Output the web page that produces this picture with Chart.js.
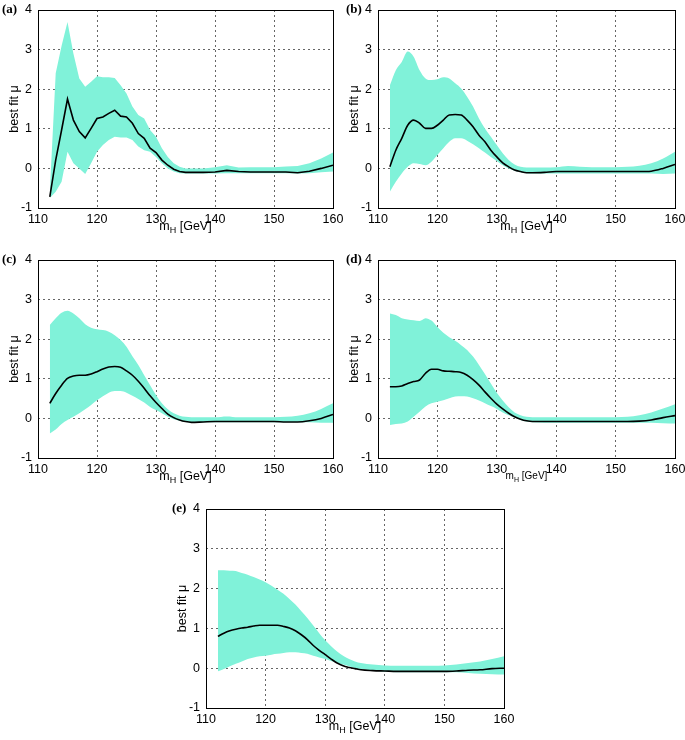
<!DOCTYPE html>
<html>
<head>
<meta charset="utf-8">
<script src="https://cdn.jsdelivr.net/npm/chart.js@4.4.1/dist/chart.umd.min.js"></script>
<style>
  html, body { margin: 0; padding: 0; background: #fff; }
  body { width: 685px; height: 740px; position: relative; overflow: hidden; }
  .panel { position: absolute; }
  .panel canvas { position: absolute; left: 0; top: 0; }
  .tag { position: absolute; font: bold 13px "Liberation Serif", "DejaVu Serif", serif; color: #000; }
  .xtitle { position: absolute; text-align: center; font: 12.5px "Liberation Sans", Arial, sans-serif; color: #000; line-height: 14px; }
  .xtitle sub { font-size: 9px; vertical-align: -3px; }
  .xtitle.small { font-size: 10px; }
  .xtitle.small sub { font-size: 7px; }
</style>
</head>
<body>
<script>
/* best fit mu vs m_H, five panels (a)-(e) */

const massGeV = [112, 113, 114, 115, 116, 117, 118, 119, 120, 121, 122, 123, 124, 125,
  126, 127, 128, 129, 130, 131, 132, 133, 134, 135,
  136, 138, 140, 142, 144, 146, 148, 150, 152, 154, 156, 158, 160];

const xTicks = [110, 120, 130, 140, 150, 160];
const yTicks = [-1, 0, 1, 2, 3, 4];

// (a)
const muA = [-0.72, 0.21, 0.97, 1.75, 1.22, 0.93, 0.77, 1.01, 1.26, 1.30, 1.39, 1.47, 1.32, 1.30,
  1.14, 0.88, 0.76, 0.51, 0.40, 0.21, 0.08, -0.02, -0.08, -0.10,
  -0.10, -0.10, -0.09, -0.05, -0.08, -0.09, -0.09, -0.09, -0.09, -0.11, -0.07, 0.00, 0.08];
const upA = [-0.60, 2.40, 3.10, 3.70, 2.90, 2.27, 2.06, 2.19, 2.33, 2.30, 2.30, 2.28, 2.10, 1.89,
  1.56, 1.35, 1.26, 0.97, 0.80, 0.51, 0.29, 0.13, 0.04, 0.00,
  0.00, 0.00, 0.03, 0.08, 0.02, 0.03, 0.03, 0.03, 0.05, 0.06, 0.13, 0.25, 0.40];
const loA = [-0.75, -0.59, -0.34, 0.42, 0.13, 0.00, -0.14, 0.13, 0.42, 0.59, 0.72, 0.80, 0.78, 0.78,
  0.72, 0.55, 0.46, 0.42, 0.29, 0.13, 0.00, -0.08, -0.12, -0.13,
  -0.13, -0.13, -0.13, -0.12, -0.12, -0.12, -0.12, -0.12, -0.12, -0.13, -0.12, -0.10, -0.08];

// (b)
const muB = [0.04, 0.46, 0.76, 1.09, 1.22, 1.14, 1.01, 1.01, 1.09, 1.22, 1.35, 1.36, 1.35, 1.22,
  1.05, 0.84, 0.67, 0.46, 0.29, 0.14, 0.04, -0.04, -0.08, -0.11,
  -0.11, -0.10, -0.08, -0.08, -0.08, -0.08, -0.08, -0.08, -0.08, -0.08, -0.07, 0.00, 0.10];
const upB = [2.10, 2.48, 2.69, 2.95, 2.82, 2.48, 2.27, 2.23, 2.25, 2.30, 2.27, 2.15, 2.02, 1.81,
  1.56, 1.26, 1.01, 0.80, 0.59, 0.38, 0.21, 0.10, 0.04, 0.02,
  0.02, 0.02, 0.03, 0.06, 0.04, 0.03, 0.03, 0.03, 0.04, 0.07, 0.13, 0.25, 0.42];
const loB = [-0.59, -0.34, -0.13, 0.04, 0.13, 0.11, 0.08, 0.17, 0.34, 0.51, 0.67, 0.76, 0.76, 0.70,
  0.61, 0.51, 0.40, 0.29, 0.19, 0.08, 0.00, -0.06, -0.10, -0.12,
  -0.13, -0.13, -0.13, -0.13, -0.13, -0.13, -0.13, -0.13, -0.13, -0.13, -0.13, -0.14, -0.13];

// (c)
const muC = [0.38, 0.63, 0.84, 1.01, 1.07, 1.09, 1.09, 1.12, 1.18, 1.25, 1.30, 1.31, 1.29, 1.20,
  1.09, 0.94, 0.76, 0.57, 0.40, 0.25, 0.11, 0.02, -0.04, -0.08,
  -0.10, -0.09, -0.08, -0.08, -0.08, -0.08, -0.08, -0.08, -0.09, -0.09, -0.06, 0.00, 0.10];
const upC = [2.36, 2.53, 2.67, 2.72, 2.65, 2.53, 2.38, 2.29, 2.25, 2.23, 2.19, 2.10, 1.98, 1.81,
  1.57, 1.35, 1.09, 0.84, 0.59, 0.38, 0.23, 0.13, 0.07, 0.04,
  0.03, 0.03, 0.03, 0.05, 0.03, 0.03, 0.03, 0.03, 0.04, 0.07, 0.13, 0.24, 0.38];
const loC = [-0.38, -0.28, -0.14, -0.04, 0.04, 0.13, 0.23, 0.34, 0.46, 0.56, 0.65, 0.69, 0.69, 0.65,
  0.57, 0.49, 0.40, 0.29, 0.21, 0.13, 0.04, -0.02, -0.06, -0.09,
  -0.10, -0.10, -0.10, -0.10, -0.10, -0.10, -0.10, -0.10, -0.10, -0.10, -0.10, -0.11, -0.11];

// (d)
const muD = [0.80, 0.80, 0.82, 0.88, 0.93, 0.97, 1.14, 1.24, 1.24, 1.20, 1.19, 1.18, 1.16, 1.09,
  0.98, 0.84, 0.67, 0.51, 0.36, 0.24, 0.13, 0.04, -0.02, -0.06,
  -0.08, -0.08, -0.08, -0.08, -0.08, -0.08, -0.08, -0.08, -0.08, -0.07, -0.04, 0.02, 0.07];
const upD = [2.65, 2.61, 2.53, 2.50, 2.48, 2.46, 2.53, 2.47, 2.31, 2.16, 2.05, 1.96, 1.85, 1.73,
  1.56, 1.35, 1.12, 0.88, 0.65, 0.45, 0.28, 0.15, 0.08, 0.04,
  0.03, 0.03, 0.03, 0.03, 0.03, 0.03, 0.03, 0.03, 0.04, 0.08, 0.15, 0.25, 0.36];
const loD = [-0.17, -0.14, -0.13, -0.08, 0.04, 0.17, 0.30, 0.38, 0.42, 0.46, 0.51, 0.55, 0.56, 0.55,
  0.51, 0.45, 0.38, 0.31, 0.24, 0.15, 0.08, 0.02, -0.04, -0.08,
  -0.10, -0.11, -0.11, -0.11, -0.11, -0.11, -0.11, -0.11, -0.11, -0.11, -0.11, -0.12, -0.13];

// (e)
const muE = [0.80, 0.88, 0.94, 0.98, 1.01, 1.03, 1.06, 1.08, 1.08, 1.08, 1.08, 1.05, 1.01, 0.94,
  0.84, 0.72, 0.57, 0.45, 0.34, 0.23, 0.13, 0.06, 0.02, -0.01,
  -0.04, -0.06, -0.07, -0.08, -0.08, -0.08, -0.08, -0.08, -0.07, -0.05, -0.04, -0.01, 0.00];
const upE = [2.46, 2.46, 2.45, 2.44, 2.39, 2.35, 2.29, 2.23, 2.16, 2.07, 1.97, 1.87, 1.74, 1.60,
  1.43, 1.26, 1.07, 0.88, 0.70, 0.55, 0.42, 0.31, 0.23, 0.17,
  0.13, 0.09, 0.07, 0.06, 0.06, 0.06, 0.06, 0.07, 0.09, 0.13, 0.17, 0.23, 0.30];
const loE = [-0.08, -0.02, 0.05, 0.11, 0.17, 0.23, 0.27, 0.30, 0.31, 0.34, 0.36, 0.38, 0.40, 0.40,
  0.38, 0.36, 0.31, 0.27, 0.23, 0.18, 0.13, 0.09, 0.05, 0.00,
  -0.02, -0.06, -0.09, -0.10, -0.10, -0.10, -0.10, -0.10, -0.10, -0.12, -0.14, -0.15, -0.16];

const BAND = "#80f2d9";
const TICK_FONT = { family: "'Liberation Sans', Arial, sans-serif", size: 12.5 };

// solid frame round the plot area, like gnuplot's border
const framePlugin = {
  id: "frame",
  afterDraw(chart) {
    const { ctx, chartArea: a } = chart;
    ctx.save();
    ctx.strokeStyle = "#000";
    ctx.lineWidth = 1;
    ctx.strokeRect(Math.round(a.left) + 0.5, Math.round(a.top) + 0.5,
      Math.round(a.right - a.left), Math.round(a.bottom - a.top));
    ctx.restore();
  }
};

const pts = (ys) => massGeV.map((m, i) => ({ x: m, y: ys[i] }));

function makePanel(p) {
  const div = document.createElement("div");
  div.className = "panel";
  div.style.left = p.left + "px";
  div.style.top = p.top + "px";
  div.style.width = p.width + "px";
  div.style.height = p.height + "px";
  document.body.appendChild(div);

  const canvas = document.createElement("canvas");
  canvas.width = p.width;
  canvas.height = p.height;
  div.appendChild(canvas);

  const tag = document.createElement("div");
  tag.className = "tag";
  tag.style.left = p.tagX + "px";
  tag.style.top = "1px";
  tag.textContent = p.tag;
  div.appendChild(tag);

  const yW = 38, xH = 32, padTop = 10;
  const plotRight = p.width - p.padRight;
  const xt = document.createElement("div");
  xt.className = "xtitle" + (p.smallTitle ? " small" : "");
  xt.style.left = yW + "px";
  xt.style.width = (plotRight - yW) + "px";
  xt.style.top = (p.height - xH + 11) + "px";
  xt.innerHTML = "m<sub>H</sub> [GeV]";
  div.appendChild(xt);

  const curve = p.smooth ? { cubicInterpolationMode: "monotone" } : { tension: 0 };

  new Chart(canvas, {
    type: "line",
    data: {
      datasets: [
        { data: pts(p.mu), borderColor: "#000", borderWidth: 1.6, pointRadius: 0, fill: false, order: 0, ...curve },
        { data: pts(p.up), borderWidth: 0, borderColor: BAND, backgroundColor: BAND, pointRadius: 0, fill: "+1", order: 1, ...curve },
        { data: pts(p.lo), borderWidth: 0, borderColor: BAND, backgroundColor: BAND, pointRadius: 0, fill: false, order: 2, ...curve }
      ]
    },
    options: {
      responsive: false,
      animation: false,
      layout: { padding: { top: padTop, right: p.padRight, left: 0, bottom: 0 } },
      plugins: { legend: { display: false }, tooltip: { enabled: false } },
      scales: {
        x: {
          type: "linear",
          min: 110, max: 160,
          z: 1,
          afterFit: (s) => { s.height = xH; s.paddingLeft = 0; s.paddingRight = 0; },
          afterBuildTicks: (s) => { s.ticks = xTicks.map((v) => ({ value: v })); },
          grid: { color: "#666", drawTicks: false, lineWidth: 1 },
          border: { display: false, dash: [2, 3] },
          ticks: { color: "#000", font: TICK_FONT, padding: 4, maxRotation: 0 }
        },
        y: {
          type: "linear",
          min: -1, max: 4,
          z: 1,
          afterFit: (s) => { s.width = yW; s.paddingTop = 0; s.paddingBottom = 0; },
          afterBuildTicks: (s) => { s.ticks = yTicks.map((v) => ({ value: v })); },
          grid: { color: "#666", drawTicks: false, lineWidth: 1 },
          border: { display: false, dash: [2, 3] },
          ticks: { color: "#000", font: TICK_FONT, padding: 6 },
          title: { display: true, text: "best fit μ", color: "#000", font: TICK_FONT, padding: { top: 7, bottom: 0 } }
        }
      }
    },
    plugins: [framePlugin]
  });
}

makePanel({ tag: "(a)", left: 0, top: 0, width: 348, height: 240, padRight: 15, tagX: 2, mu: muA, up: upA, lo: loA, smooth: false });
makePanel({ tag: "(b)", left: 340, top: 0, width: 345, height: 240, padRight: 10, tagX: 6, mu: muB, up: upB, lo: loB, smooth: true });
makePanel({ tag: "(c)", left: 0, top: 250, width: 348, height: 240, padRight: 15, tagX: 2, mu: muC, up: upC, lo: loC, smooth: true });
makePanel({ tag: "(d)", left: 340, top: 250, width: 345, height: 240, padRight: 10, tagX: 6, mu: muD, up: upD, lo: loD, smooth: true, smallTitle: true });
makePanel({ tag: "(e)", left: 168, top: 499, width: 352, height: 241, padRight: 16, tagX: 4, mu: muE, up: upE, lo: loE, smooth: true });
</script>
</body>
</html>
